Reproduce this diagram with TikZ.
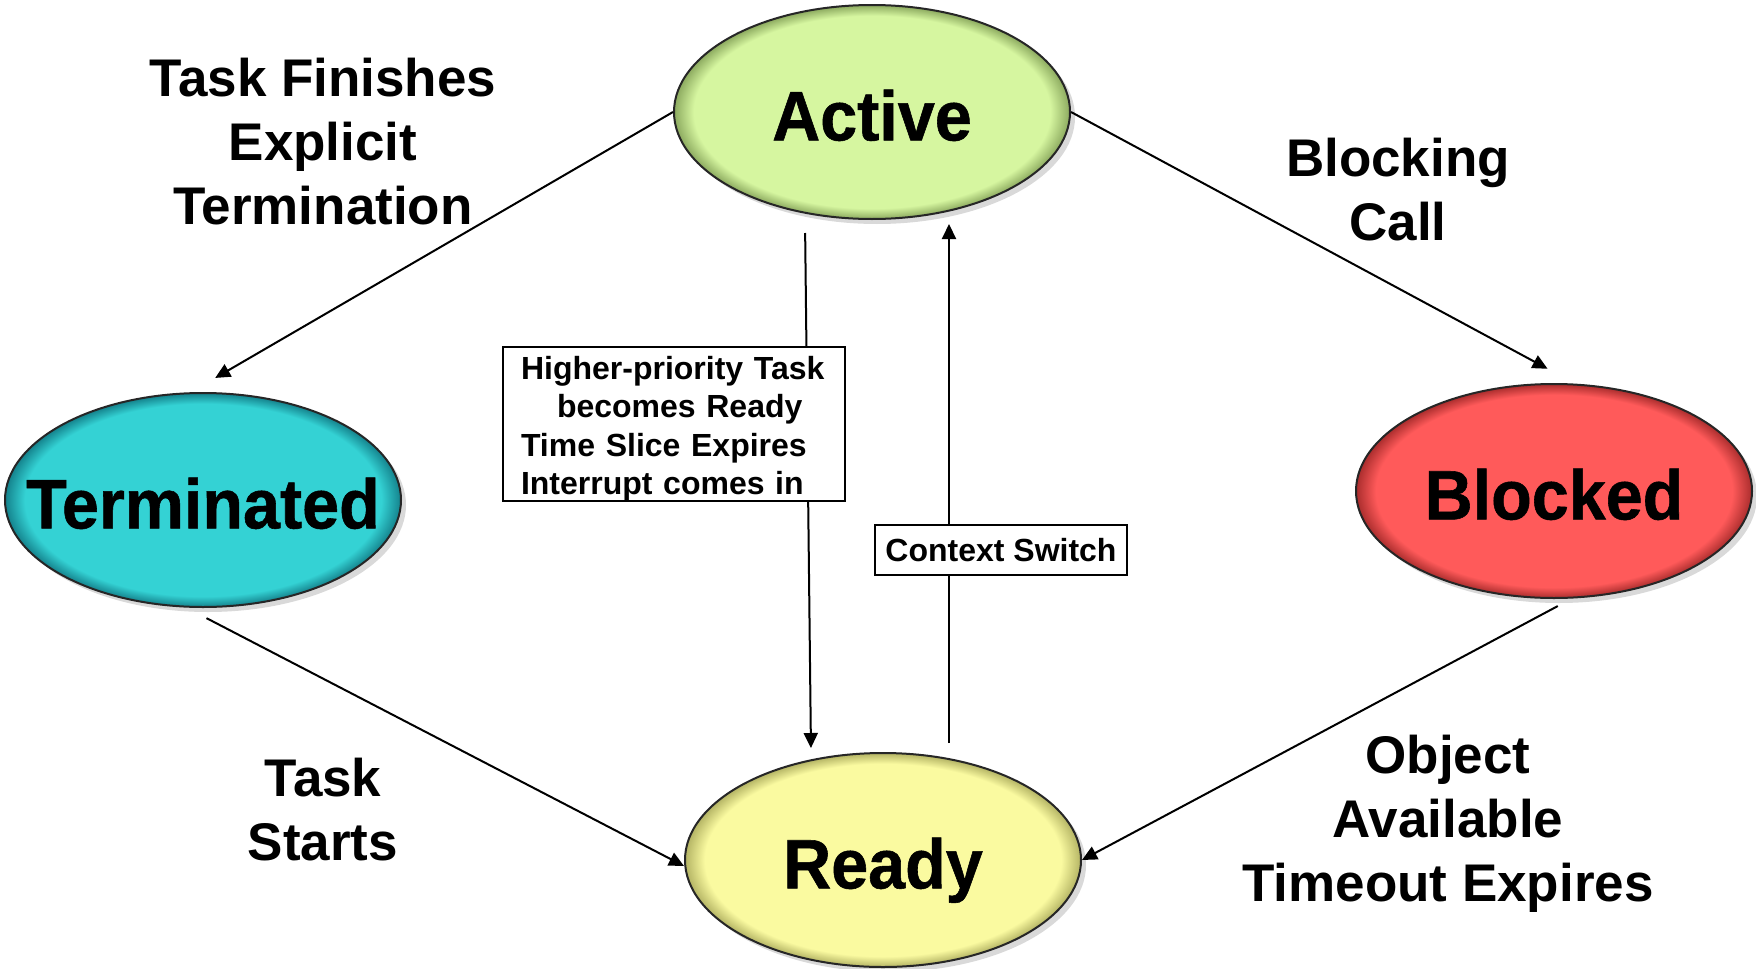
\documentclass[tikz,border=0pt]{standalone}
\usepackage{fontspec}
\setmainfont{Liberation Sans}
\newfontfamily\statefont[FakeStretch=0.95,FakeBold=0.8]{Liberation Sans}
\usetikzlibrary{arrows.meta,shapes.geometric,shadows}
\tikzset{>={Triangle[length=7.5pt,width=7pt]}}

\definecolor{activefill}{RGB}{214,246,160}
\definecolor{activerim}{RGB}{140,170,95}
\definecolor{termfill}{RGB}{52,210,212}
\definecolor{termrim}{RGB}{20,130,140}
\definecolor{blockfill}{RGB}{255,90,90}
\definecolor{blockrim}{RGB}{170,45,45}
\definecolor{readyfill}{RGB}{250,250,160}
\definecolor{readyrim}{RGB}{180,180,100}

\pgfdeclareradialshading{activeshade}{\pgfpoint{0bp}{0bp}}{color(0bp)=(activefill); color(22.5bp)=(activefill); color(25bp)=(activerim); color(50bp)=(activerim)}
\pgfdeclareradialshading{termshade}{\pgfpoint{0bp}{0bp}}{color(0bp)=(termfill); color(22.5bp)=(termfill); color(25bp)=(termrim); color(50bp)=(termrim)}
\pgfdeclareradialshading{blockshade}{\pgfpoint{0bp}{0bp}}{color(0bp)=(blockfill); color(22.5bp)=(blockfill); color(25bp)=(blockrim); color(50bp)=(blockrim)}
\pgfdeclareradialshading{readyshade}{\pgfpoint{0bp}{0bp}}{color(0bp)=(readyfill); color(22.5bp)=(readyfill); color(25bp)=(readyrim); color(50bp)=(readyrim)}

\tikzset{
  state/.style={ellipse, draw=black!85, line width=1pt, shade,
    minimum width=198pt, minimum height=107pt,
    inner xsep=-30pt, inner ysep=0pt, text height=28.4pt, text depth=0pt,
    font=\statefont\bfseries\fontsize{35}{35}\selectfont,
    drop shadow={shadow xshift=2.5pt, shadow yshift=-2.5pt, opacity=.3}},
  trans/.style={align=center, font=\bfseries\fontsize{26.5}{32}\selectfont},
  cond/.style={draw, line width=1pt, fill=white,
    font=\bfseries\fontsize{16}{19.25}\selectfont}
}

\begin{document}
\begin{tikzpicture}[x=0.5pt, y=-0.5pt]
    \useasboundingbox (0,0) rectangle (1756,969);

    \node[state, shading=activeshade] (Active)     at (872,112)  {Active};
    \node[state, shading=termshade]   (Terminated) at (203,500)  {Terminated};
    \node[state, shading=blockshade]  (Blocked)    at (1554,491) {Blocked};
    \node[state, shading=readyshade]  (Ready)      at (883,860)  {Ready};

    \path[->, line width=1pt]
      (Active.west) edge [shorten >=14pt] ([xshift=-6pt]Terminated.north)
      (Active.east) edge [shorten >=15pt] ([xshift=10pt]Blocked.north)
      ([xshift=-8pt]Terminated.south) edge [shorten <=11pt] ([yshift=-3pt]Ready.west)
      ([xshift=8.5pt]Blocked.south) edge [shorten <=7.5pt] (Ready.east)
      ([xshift=-33.5pt]Active.south) edge [shorten <=6.5pt, shorten >=2pt] ([xshift=-36pt]Ready.north)
      ([xshift=33pt]Ready.north) edge [shorten <=4.5pt, shorten >=2pt] ([xshift=38.5pt]Active.south);

    \node[trans] (lblFinish) at (323,142)  {Task Finishes\\Explicit\\Termination};
    \node[trans] (lblBlock)  at (1398,190) {Blocking\\Call};
    \node[trans] (lblStart)  at (323,810)  {Task\\Starts};
    \node[trans] (lblAvail)  at (1448,824) {Object\\Available\\Timeout Expires};

    \node[cond, minimum width=171pt, minimum height=77pt, text width=153pt,
      align=left, inner xsep=9pt, inner ysep=0pt] (condPre) at (674,424)
      {\rule{0pt}{16.2pt}Higher-priority Task\\\hspace*{18pt}becomes Ready\\Time Slice Expires\\Interrupt comes in};
    \node[cond, minimum width=126pt, minimum height=25pt, inner sep=0pt] (condSwitch) at (1001,550) {Context Switch};
\end{tikzpicture}
\end{document}
